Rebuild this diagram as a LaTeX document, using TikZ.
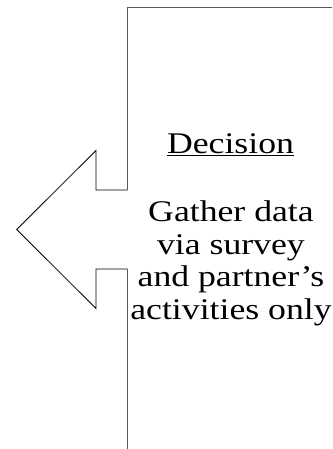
\documentclass[tikz,border=0pt]{standalone}
\usepackage{fontspec}
\setmainfont[FakeStretch=1.19]{Liberation Serif}
\usepackage{tikz}

\begin{document}
\begin{tikzpicture}[x=1bp, y=-1bp]
    \useasboundingbox (0,0) rectangle (332,449);

    \def\arrowhead{(127.5,190) -- (96,190) -- (96,150.5) -- (16.7,229.5) -- (96,308.5) -- (96,269) -- (127.5,269)}
    \def\upperside{(332,7.5) -- (127.5,7.5) -- (127.5,190)}
    \def\lowerside{(127.5,269) -- (127.5,449)}

    \draw[line width=0.8bp] \arrowhead;
    \draw[line width=1.3bp, black!65] \upperside \lowerside;

    \node[anchor=base, font=\fontsize{30bp}{32.4bp}\selectfont] (title) at (230.5,153.3) {\underline{Decision}};
    \node[anchor=base, align=center, font=\fontsize{30bp}{32.4bp}\selectfont] (body) at (231,319) {Gather data\\via survey\\and partner's\\activities only};
\end{tikzpicture}
\end{document}
